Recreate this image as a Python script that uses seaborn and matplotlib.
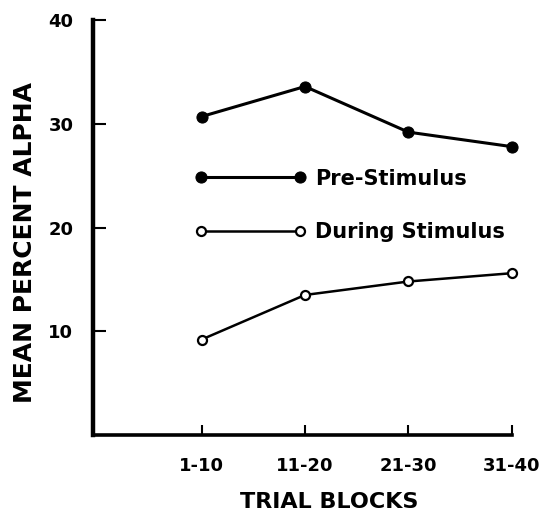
import matplotlib
matplotlib.use("Agg")
import matplotlib.pyplot as plt
import seaborn as sns
import pandas as pd

# Datos
bloques = ["1-10", "11-20", "21-30", "31-40"]
pre_estimulo = [30.7, 33.6, 29.2, 27.8]
durante_estimulo = [9.2, 13.5, 14.8, 15.6]

sns.set_style("ticks")
plt.rcParams['font.family'] = ['DejaVu Sans']
plt.rcParams['font.weight'] = 'bold'
for clave in ['text.color', 'axes.labelcolor', 'xtick.color', 'ytick.color', 'axes.edgecolor']:
    plt.rcParams[clave] = 'black'

df = pd.DataFrame({"bloque": bloques, "pre": pre_estimulo, "durante": durante_estimulo})

fig = plt.figure(figsize=(5.4, 5.16), dpi=100)
ax = fig.add_axes([0.172, 0.157, 0.776, 0.804])

sns.lineplot(data=df, x="bloque", y="pre", ax=ax, color="black", linewidth=2.2,
             marker="o", markersize=8, markerfacecolor="black", markeredgecolor="black",
             label="Pre-Stimulus", sort=False, clip_on=False)
sns.lineplot(data=df, x="bloque", y="durante", ax=ax, color="black", linewidth=1.8,
             marker="o", markersize=6.5, markerfacecolor="white", markeredgecolor="black",
             markeredgewidth=1.6, label="During Stimulus", sort=False, clip_on=False)

ax.set_xlim(-1.05, 3.0)
ax.set_ylim(0, 40)
ax.set_yticks([10, 20, 30, 40])
ax.set_xticks(range(len(bloques)))
ax.set_xticklabels(bloques)

sns.despine(ax=ax)
ax.spines['left'].set_linewidth(3.2)
ax.spines['bottom'].set_linewidth(2.6)
ax.tick_params(axis='y', direction='in', length=9, width=1.5, pad=14, labelsize=13)
ax.tick_params(axis='x', direction='in', length=7, width=1.5, pad=16, labelsize=13)

ax.set_xlabel("TRIAL BLOCKS", fontsize=16, fontweight='bold')
ax.set_ylabel("MEAN PERCENT ALPHA", fontsize=18, fontweight='bold')
ax.xaxis.set_label_coords(0.563, -0.137)
ax.yaxis.set_label_coords(-0.134, 0.465)

ax.legend(loc='upper left', bbox_to_anchor=(0.243, 0.642), frameon=False, numpoints=2,
          handlelength=5.36, handletextpad=0.43, labelspacing=1.62, fontsize=15,
          borderpad=0, borderaxespad=0)

plt.savefig("out.png", dpi=100)
